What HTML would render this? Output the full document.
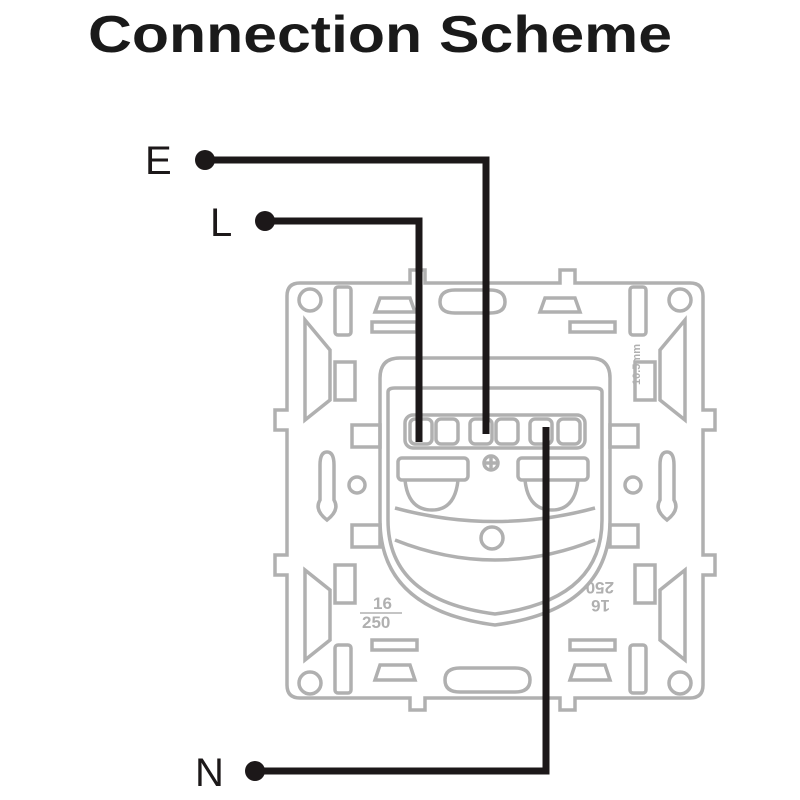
<!DOCTYPE html>
<html><head><style>
html,body{margin:0;padding:0;background:#fff;}
svg{display:block}
</style></head><body>
<svg width="800" height="800" viewBox="0 0 800 800" xmlns="http://www.w3.org/2000/svg">
<text x="88" y="52" font-family="Liberation Sans, sans-serif" font-weight="bold" font-size="52" textLength="584" lengthAdjust="spacingAndGlyphs" fill="#1a1a1a">Connection Scheme</text>
<g fill="none" stroke="#b0b0b0" stroke-width="3.5">
<path d="M300 283 H410 V270 H425 V283 H560 V270 H575 V283 H690 Q703 283 703 296 V410 H715 V430 H703 V555 H715 V575 H703 V685 Q703 698 690 698 H575 V710 H560 V698 H425 V710 H410 V698 H300 Q287 698 287 685 V575 H275 V555 H287 V430 H275 V410 H287 V296 Q287 283 300 283 Z"/>
<circle cx="310" cy="300" r="11"/><circle cx="680" cy="300" r="11"/>
<circle cx="310" cy="683" r="11"/><circle cx="680" cy="683" r="11"/>
<rect x="335" y="287" width="16" height="48" rx="3"/><rect x="630" y="287" width="16" height="48" rx="3"/>
<rect x="335" y="645" width="16" height="48" rx="3"/><rect x="630" y="645" width="16" height="48" rx="3"/>
<rect x="372" y="322" width="45" height="10"/><rect x="570" y="322" width="45" height="10"/>
<rect x="372" y="640" width="45" height="10"/><rect x="570" y="640" width="45" height="10"/>
<path d="M440 302 Q440 290 455 290 H490 Q505 290 505 302 Q505 313 490 313 H455 Q440 313 440 302Z"/>
<path d="M445 680 Q445 668 460 668 H515 Q530 668 530 680 Q530 692 515 692 H460 Q445 692 445 680Z"/>
<path d="M380 298 L410 298 L415 312 L375 312Z"/><path d="M545 298 L575 298 L580 312 L540 312Z"/>
<path d="M380 665 L410 665 L415 680 L375 680Z"/><path d="M575 665 L605 665 L610 680 L570 680Z"/>
<rect x="335" y="362" width="20" height="38"/><rect x="635" y="362" width="20" height="38"/>
<rect x="335" y="565" width="20" height="38"/><rect x="635" y="565" width="20" height="38"/>
<path d="M305 320 L330 350 V400 L305 420Z"/><path d="M685 320 L660 350 V400 L685 420Z"/>
<path d="M305 570 L330 590 V640 L305 660Z"/><path d="M685 570 L660 590 V640 L685 660Z"/>
<path d="M320 465 Q320 452 327 452 Q334 452 334 465 V500 Q340 510 327 520 Q314 510 320 500Z"/>
<path d="M660 465 Q660 452 667 452 Q674 452 674 465 V500 Q680 510 667 520 Q654 510 660 500Z"/>
<circle cx="357" cy="485" r="8"/><circle cx="633" cy="485" r="8"/>
<rect x="352" y="425" width="28" height="22"/><rect x="610" y="425" width="28" height="22"/>
<rect x="352" y="525" width="28" height="22"/><rect x="610" y="525" width="28" height="22"/>
<path d="M380 378 Q380 358 400 358 H590 Q610 358 610 378 V520 Q610 610 495 625 Q380 610 380 520 Z"/>
<path d="M388 392 Q388 388 395 388 H595 Q602 388 602 392 V520 Q602 600 495 614 Q388 600 388 520 Z"/>
<path d="M395 508 Q495 535 595 508"/>
<path d="M395 540 Q495 580 595 540"/>
<rect x="405" y="415" width="180" height="33" rx="8"/>
<rect x="410" y="419" width="22" height="25" rx="5"/><rect x="436" y="419" width="22" height="25" rx="5"/>
<rect x="470" y="419" width="22" height="25" rx="5"/><rect x="496" y="419" width="22" height="25" rx="5"/>
<rect x="530" y="419" width="22" height="25" rx="5"/><rect x="558" y="419" width="22" height="25" rx="5"/>
<circle cx="491" cy="463" r="7"/><path d="M484 463 H498 M491 456 V470"/>
<rect x="398" y="458" width="70" height="22" rx="4"/><rect x="518" y="458" width="70" height="22" rx="4"/>
<path d="M405 480 Q408 510 432 510 Q455 510 458 480"/><path d="M525 480 Q528 510 552 510 Q575 510 578 480"/>
<circle cx="492" cy="538" r="11"/>
</g>
<g font-family="Liberation Sans, sans-serif" font-weight="bold" fill="#b0b0b0" font-size="17">
<text x="373" y="609">16</text><text x="362" y="628">250</text>
<line x1="360" y1="613" x2="402" y2="613" stroke="#b0b0b0" stroke-width="1.5"/>
<text x="590" y="600" transform="rotate(180 600 600)">16</text>
<text x="586" y="582" transform="rotate(180 600 582)">250</text>
<text x="620" y="395" font-size="11" transform="rotate(-90 625 380)">10.5mm</text>
</g>
<g stroke="#1c1819" stroke-width="7" fill="none">
<polyline points="205,160 486,160 486,434"/>
<polyline points="265,221 419,221 419,442"/>
<polyline points="255,771 546,771 546,427"/>
</g>
<g fill="#1c1819"><circle cx="205" cy="160" r="10"/><circle cx="265" cy="221" r="10"/><circle cx="255" cy="771" r="10"/></g>
<g font-family="Liberation Sans, sans-serif" font-size="40" fill="#1c1819">
<text x="145" y="174">E</text><text x="210" y="236">L</text><text x="195" y="786">N</text>
</g>
</svg>
</body></html>
